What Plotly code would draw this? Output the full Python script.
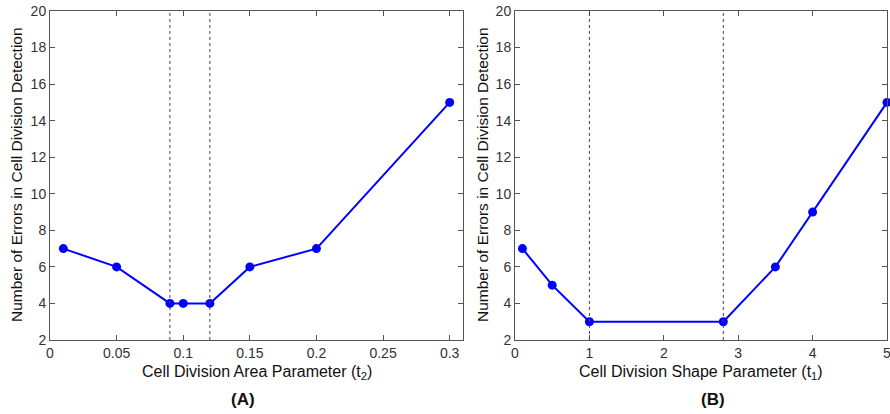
import plotly.graph_objects as go

# Panel A data
area_x = [0.01, 0.05, 0.09, 0.10, 0.12, 0.15, 0.20, 0.30]
area_y = [7, 6, 4, 4, 4, 6, 7, 15]
area_lines = [0.09, 0.12]

# Panel B data
shape_x = [0.1, 0.5, 1.0, 2.8, 3.5, 4.0, 5.0]
shape_y = [7, 5, 3, 3, 6, 9, 15]
shape_lines = [1.0, 2.8]

y_ticks = [2, 4, 6, 8, 10, 12, 14, 16, 18, 20]
area_ticks = [0, 0.05, 0.1, 0.15, 0.2, 0.25, 0.3]
area_ticklabels = ["0", "0.05", "0.1", "0.15", "0.2", "0.25", "0.3"]
shape_ticks = [0, 1, 2, 3, 4, 5]

W, H = 890, 414
BLUE = "#0000FF"
FONT = "Liberation Sans, Arial, sans-serif"

fig = go.Figure()
fig.add_trace(go.Scatter(x=area_x, y=area_y, mode="lines+markers",
                         line=dict(color=BLUE, width=2),
                         marker=dict(color=BLUE, size=9),
                         xaxis="x", yaxis="y", showlegend=False, cliponaxis=False))
fig.add_trace(go.Scatter(x=shape_x, y=shape_y, mode="lines+markers",
                         line=dict(color=BLUE, width=2),
                         marker=dict(color=BLUE, size=9),
                         xaxis="x2", yaxis="y2", showlegend=False, cliponaxis=False))

ax_common = dict(showgrid=False, zeroline=False, showline=True, mirror="ticks",
                 linecolor="#555555", linewidth=1, ticks="inside", ticklen=5,
                 tickcolor="#555555", automargin=False, ticklabeloverflow="allow",
                 tickfont=dict(family=FONT, size=14, color="#333333"))

ydom = [(H - 340) / H, (H - 11) / H]
fig.update_layout(
    width=W, height=H, margin=dict(l=0, r=0, t=0, b=0, pad=0, autoexpand=False),
    autosize=False,
    paper_bgcolor="white", plot_bgcolor="white",
    xaxis=dict(domain=[50 / W, 463 / W], range=[0, 0.31], tickvals=area_ticks,
               ticktext=area_ticklabels, anchor="y", **ax_common),
    yaxis=dict(domain=ydom, range=[2, 20], tickvals=y_ticks, anchor="x", **ax_common),
    xaxis2=dict(domain=[515 / W, 887 / W], range=[0, 5], tickvals=shape_ticks,
                anchor="y2", **ax_common),
    yaxis2=dict(domain=ydom, range=[2, 20], tickvals=y_ticks, anchor="x2", **ax_common),
)

shapes = []
for xv in area_lines:
    shapes.append(dict(type="line", xref="x", yref="y", x0=xv, x1=xv, y0=2, y1=20,
                       line=dict(color="#444444", width=1, dash="dot")))
for xv in shape_lines:
    shapes.append(dict(type="line", xref="x2", yref="y2", x0=xv, x1=xv, y0=2, y1=20,
                       line=dict(color="#444444", width=1, dash="dot")))
fig.update_layout(shapes=shapes)

ytitle = "Number of Errors in Cell Division Detection"
ann = [
    dict(text="Cell Division Area Parameter (t<sub>2</sub>)", x=(50 + 463) / 2 / W, y=1 - 372 / H,
         xref="paper", yref="paper", showarrow=False, xanchor="center", yanchor="middle",
         font=dict(family=FONT, size=16, color="#111111")),
    dict(text="Cell Division Shape Parameter (t<sub>1</sub>)", x=(515 + 887) / 2 / W, y=1 - 372 / H,
         xref="paper", yref="paper", showarrow=False, xanchor="center", yanchor="middle",
         font=dict(family=FONT, size=16, color="#111111")),
    dict(text=ytitle, x=16 / W, y=1 - 175 / H, textangle=-90,
         xref="paper", yref="paper", showarrow=False, xanchor="center", yanchor="middle",
         font=dict(family=FONT, size=15.5, color="#111111")),
    dict(text=ytitle, x=482 / W, y=1 - 175 / H, textangle=-90,
         xref="paper", yref="paper", showarrow=False, xanchor="center", yanchor="middle",
         font=dict(family=FONT, size=15.5, color="#111111")),
    dict(text="<b>(A)</b>", x=243 / W, y=1 - 399 / H,
         xref="paper", yref="paper", showarrow=False, xanchor="center", yanchor="middle",
         font=dict(family=FONT, size=17, color="#111111")),
    dict(text="<b>(B)</b>", x=713 / W, y=1 - 399 / H,
         xref="paper", yref="paper", showarrow=False, xanchor="center", yanchor="middle",
         font=dict(family=FONT, size=17, color="#111111")),
]
fig.update_layout(annotations=ann)

fig.write_html("out.html", config={"responsive": False, "displayModeBar": False},
               post_script="document.body.style.margin='0';document.body.style.overflow='hidden';")
